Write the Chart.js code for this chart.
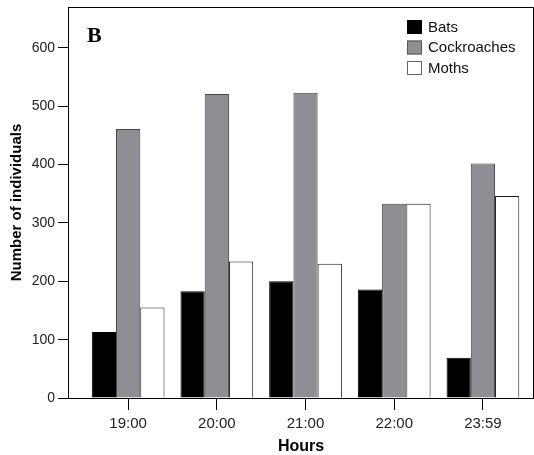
<!DOCTYPE html>
<html>
<head>
<meta charset="utf-8">
<script src="https://cdn.jsdelivr.net/npm/chart.js@4/dist/chart.umd.min.js"></script>
<style>
  html, body { margin: 0; padding: 0; background: #fff; }
  #wrap { width: 534px; height: 455px; position: relative; }
</style>
</head>
<body>
<div id="wrap"><canvas id="c" width="534" height="455"></canvas></div>
<script>
const hours = ['19:00', '20:00', '21:00', '22:00', '23:59'];
const bats = [113, 183, 200, 186, 69];
const cockroaches = [461, 521, 523, 333, 402];
const moths = [155, 234, 230, 333, 346];
const yTicks = [0, 100, 200, 300, 400, 500, 600];
const panelLabel = 'B';

const toPoints = arr => arr.map((v, i) => ({ x: i + 1, y: v }));

const framePlugin = {
  id: 'frame',
  afterDraw(chart) {
    const { ctx, chartArea: a } = chart;
    ctx.save();
    ctx.strokeStyle = '#000';
    ctx.lineWidth = 1;
    ctx.beginPath();
    ctx.moveTo(a.left, a.top + 0.5);
    ctx.lineTo(a.right - 0.5, a.top + 0.5);
    ctx.lineTo(a.right - 0.5, a.bottom);
    ctx.stroke();
    // panel label
    ctx.fillStyle = '#000';
    ctx.font = 'bold 22px "Liberation Serif", "Times New Roman", serif';
    ctx.textBaseline = 'alphabetic';
    ctx.textAlign = 'left';
    ctx.fillText(panelLabel, 87, 42);
    // legend
    ctx.font = '15px "Liberation Sans", Arial, sans-serif';
    ctx.textBaseline = 'middle';
    chart.data.datasets.forEach((ds, i) => {
      const y = 20 + i * 20.5;
      ctx.fillStyle = ds.backgroundColor;
      ctx.fillRect(407, y, 15, 14);
      ctx.strokeStyle = ds.legendBorder;
      ctx.lineWidth = 1;
      ctx.strokeRect(407.5, y + 0.5, 14, 13);
      ctx.fillStyle = '#111';
      ctx.fillText(ds.label, 428, y + 7.5);
    });
    ctx.restore();
  }
};

function zeroPad(scale) {
  scale.paddingLeft = 0;
  scale.paddingRight = 0;
  scale.paddingTop = 0;
  scale.paddingBottom = 0;
}

new Chart(document.getElementById('c'), {
  type: 'bar',
  data: {
    datasets: [
      { label: 'Bats', data: toPoints(bats), backgroundColor: '#000000', borderColor: '#000000', legendBorder: '#000000', borderWidth: 1 },
      { label: 'Cockroaches', data: toPoints(cockroaches), backgroundColor: '#8e8f94', borderColor: '#45464a', legendBorder: '#55565a', borderWidth: 1 },
      { label: 'Moths', data: toPoints(moths), backgroundColor: '#ffffff', borderColor: '#1a1a1a', legendBorder: '#666666', borderWidth: 1 }
    ]
  },
  options: {
    responsive: false,
    animation: false,
    events: [],
    layout: { padding: { top: 7, right: 0, left: 0, bottom: 0 } },
    datasets: { bar: { categoryPercentage: 0.82, barPercentage: 1.0 } },
    plugins: { legend: { display: false }, tooltip: { enabled: false } },
    scales: {
      x: {
        type: 'linear',
        min: 0.322,
        max: 5.576,
        offset: false,
        afterFit(scale) { scale.height = 57; zeroPad(scale); },
        afterBuildTicks(axis) { axis.ticks = hours.map((h, i) => ({ value: i + 1 })); },
        ticks: {
          autoSkip: false,
          maxRotation: 0,
          padding: 5,
          color: '#222',
          font: { family: '"Liberation Sans", Arial, sans-serif', size: 15 },
          callback: (v) => hours[Math.round(v) - 1]
        },
        grid: { display: true, offset: false, drawOnChartArea: false, drawTicks: true, tickLength: 12, color: '#000', lineWidth: 1 },
        border: { display: true, color: '#000', width: 1 },
        title: {
          display: true,
          text: 'Hours',
          color: '#000',
          padding: { top: 0, bottom: 0 },
          font: { family: '"Liberation Sans", Arial, sans-serif', size: 16, weight: 'bold', lineHeight: 1.0 }
        }
      },
      y: {
        min: 0,
        max: 670,
        afterFit(scale) { scale.width = 68; zeroPad(scale); },
        afterBuildTicks(axis) { axis.ticks = yTicks.map(v => ({ value: v })); },
        ticks: {
          padding: 3,
          color: '#222',
          font: { family: '"Liberation Sans", Arial, sans-serif', size: 14 }
        },
        grid: { display: true, drawOnChartArea: false, drawTicks: true, tickLength: 10, color: '#000', lineWidth: 1 },
        border: { display: true, color: '#000', width: 1 },
        title: {
          display: true,
          text: 'Number of individuals',
          color: '#000',
          padding: { top: 8, bottom: 0 },
          font: { family: '"Liberation Sans", Arial, sans-serif', size: 15, weight: 'bold', lineHeight: 1.2 }
        }
      }
    }
  },
  plugins: [framePlugin]
});
</script>
</body>
</html>
